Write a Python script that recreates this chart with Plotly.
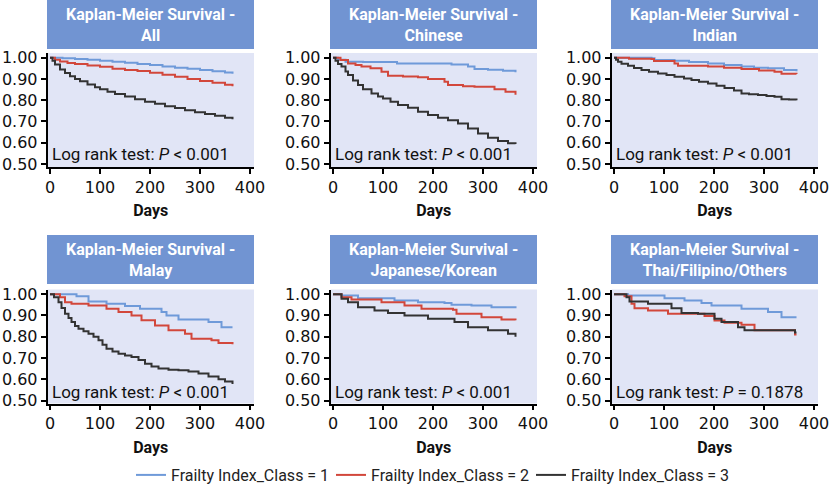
import plotly.graph_objects as go

# ---------------- data ----------------
PANEL_TITLES = ["Kaplan-Meier Survival -<br>All", "Kaplan-Meier Survival -<br>Chinese",
                "Kaplan-Meier Survival -<br>Indian", "Kaplan-Meier Survival -<br>Malay",
                "Kaplan-Meier Survival -<br>Japanese/Korean", "Kaplan-Meier Survival -<br>Thai/Filipino/Others"]
PVALUE_TEXT = ["<i>P</i> < 0.001", "<i>P</i> < 0.001", "<i>P</i> < 0.001",
               "<i>P</i> < 0.001", "<i>P</i> < 0.001", "<i>P</i> = 0.1878"]
SERIES_NAMES = ["Frailty Index_Class = 1", "Frailty Index_Class = 2", "Frailty Index_Class = 3"]
X_TICKS = [0, 100, 200, 300, 400]
Y_TICKS = [0.50, 0.60, 0.70, 0.80, 0.90, 1.00]

# All
ALL_D1 = [0, 25, 50, 75, 100, 125, 150, 175, 200, 225, 250, 275, 300, 325, 350, 365]
ALL_S1 = [1.0, 0.997, 0.994, 0.990, 0.986, 0.981, 0.976, 0.970, 0.965, 0.959, 0.953, 0.948, 0.942, 0.936, 0.930, 0.925]
ALL_D2 = [0, 10, 20, 35, 50, 75, 100, 125, 150, 175, 200, 225, 250, 275, 300, 325, 350, 365]
ALL_S2 = [1.0, 0.990, 0.982, 0.975, 0.970, 0.963, 0.957, 0.948, 0.942, 0.937, 0.929, 0.920, 0.910, 0.900, 0.890, 0.882, 0.873, 0.866]
ALL_D3 = [0, 5, 10, 20, 30, 40, 50, 60, 75, 90, 100, 115, 130, 150, 170, 190, 210, 230, 250, 270, 290, 310, 330, 350, 365]
ALL_S3 = [1.0, 0.985, 0.968, 0.945, 0.928, 0.913, 0.900, 0.889, 0.874, 0.861, 0.852, 0.840, 0.829, 0.817, 0.805, 0.793,
          0.783, 0.772, 0.763, 0.753, 0.744, 0.735, 0.727, 0.718, 0.711]

# Chinese
CHN_D1 = [0, 10, 25, 60, 128, 237, 270, 283, 310, 340, 365]
CHN_S1 = [1.0, 0.990, 0.981, 0.980, 0.973, 0.968, 0.958, 0.947, 0.943, 0.938, 0.931]
CHN_D2 = [0, 15, 30, 45, 57, 75, 97, 110, 140, 170, 190, 223, 230, 260, 283, 323, 345, 365]
CHN_S2 = [1.0, 0.989, 0.973, 0.965, 0.958, 0.950, 0.934, 0.915, 0.912, 0.908, 0.900, 0.887, 0.871, 0.866, 0.863, 0.852, 0.840, 0.826]
CHN_D3 = [0, 5, 10, 17, 25, 30, 40, 50, 60, 77, 90, 100, 115, 130, 150, 170, 190, 210, 230, 250, 270, 290, 310, 330, 350, 365]
CHN_S3 = [1.0, 0.985, 0.970, 0.958, 0.935, 0.918, 0.893, 0.871, 0.852, 0.832, 0.818, 0.808, 0.793, 0.777, 0.764, 0.746,
          0.730, 0.717, 0.706, 0.690, 0.667, 0.643, 0.623, 0.608, 0.598, 0.594]

# Indian
IND_D1 = [0, 75, 81, 121, 150, 188, 220, 255, 280, 308, 340, 365]
IND_S1 = [1.0, 0.997, 0.989, 0.985, 0.980, 0.973, 0.966, 0.958, 0.953, 0.950, 0.942, 0.936]
IND_D2 = [0, 30, 75, 80, 121, 128, 188, 220, 255, 290, 321, 335, 365]
IND_S2 = [1.0, 0.995, 0.994, 0.984, 0.973, 0.962, 0.959, 0.953, 0.947, 0.940, 0.934, 0.925, 0.923]
IND_D3 = [0, 4, 8, 15, 28, 40, 55, 70, 88, 105, 121, 140, 155, 170, 188, 205, 221, 240, 255, 270, 288, 305, 321, 335, 350, 365]
IND_S3 = [1.0, 0.990, 0.981, 0.972, 0.962, 0.952, 0.942, 0.934, 0.926, 0.918, 0.910, 0.902, 0.895, 0.887, 0.879, 0.868,
          0.858, 0.846, 0.832, 0.828, 0.824, 0.820, 0.816, 0.805, 0.803, 0.800]

# Malay
MAL_D1 = [0, 53, 77, 113, 150, 180, 223, 233, 257, 317, 343, 365]
MAL_S1 = [1.0, 0.990, 0.966, 0.955, 0.944, 0.931, 0.916, 0.900, 0.881, 0.869, 0.845, 0.845]
MAL_D2 = [0, 20, 30, 43, 77, 113, 137, 163, 183, 210, 237, 270, 283, 323, 337, 365]
MAL_S2 = [1.0, 0.986, 0.962, 0.955, 0.947, 0.931, 0.916, 0.900, 0.877, 0.853, 0.830, 0.814, 0.790, 0.783, 0.770, 0.765]
MAL_D3 = [0, 8, 17, 23, 30, 37, 43, 50, 57, 67, 77, 87, 97, 105, 113, 125, 137, 150, 163, 177, 190, 203, 217, 237, 257,
          277, 297, 317, 337, 350, 365]
MAL_S3 = [1.0, 0.985, 0.962, 0.935, 0.908, 0.888, 0.869, 0.850, 0.837, 0.826, 0.814, 0.800, 0.783, 0.762, 0.744, 0.730,
          0.720, 0.712, 0.705, 0.690, 0.673, 0.660, 0.650, 0.645, 0.642, 0.637, 0.627, 0.613, 0.600, 0.590, 0.578]

# Japanese/Korean
JPK_D1 = [0, 17, 50, 123, 170, 223, 237, 277, 317, 365]
JPK_S1 = [1.0, 0.994, 0.981, 0.970, 0.962, 0.959, 0.950, 0.947, 0.939, 0.934]
JPK_D2 = [0, 17, 37, 97, 143, 177, 240, 247, 297, 337, 365]
JPK_S2 = [1.0, 0.986, 0.975, 0.962, 0.947, 0.931, 0.927, 0.908, 0.892, 0.881, 0.877]
JPK_D3 = [0, 17, 30, 50, 83, 110, 143, 190, 243, 270, 310, 350, 365]
JPK_S3 = [1.0, 0.978, 0.962, 0.939, 0.923, 0.912, 0.900, 0.884, 0.869, 0.845, 0.830, 0.814, 0.800]

# Thai/Filipino/Others
OTH_D1 = [0, 28, 101, 141, 175, 195, 255, 308, 335, 365]
OTH_S1 = [1.0, 0.994, 0.981, 0.970, 0.959, 0.947, 0.931, 0.916, 0.892, 0.892]
OTH_D2 = [0, 21, 35, 41, 68, 108, 181, 201, 221, 255, 281, 362, 365]
OTH_S2 = [1.0, 0.990, 0.955, 0.934, 0.923, 0.908, 0.897, 0.876, 0.866, 0.856, 0.830, 0.810, 0.810]
OTH_D3 = [0, 25, 31, 68, 115, 135, 168, 201, 215, 248, 261, 362, 365]
OTH_S3 = [1.0, 0.986, 0.966, 0.955, 0.934, 0.912, 0.908, 0.884, 0.869, 0.845, 0.830, 0.820, 0.820]

PANELS = [
    [(ALL_D1, ALL_S1), (ALL_D2, ALL_S2), (ALL_D3, ALL_S3)],
    [(CHN_D1, CHN_S1), (CHN_D2, CHN_S2), (CHN_D3, CHN_S3)],
    [(IND_D1, IND_S1), (IND_D2, IND_S2), (IND_D3, IND_S3)],
    [(MAL_D1, MAL_S1), (MAL_D2, MAL_S2), (MAL_D3, MAL_S3)],
    [(JPK_D1, JPK_S1), (JPK_D2, JPK_S2), (JPK_D3, JPK_S3)],
    [(OTH_D1, OTH_S1), (OTH_D2, OTH_S2), (OTH_D3, OTH_S3)],
]

# ---------------- styling / layout ----------------
W, H = 830, 485
COLORS = ["#6f9ad9", "#d2473b", "#333333"]
BOX_COLOR = "#7194d2"
PLOT_BG = "#e1e5f6"
FONT = "Roboto, 'Open Sans', sans-serif"
TICK_FONT = "'DejaVu Sans', sans-serif"

COL_LEFT = [47.5, 330.5, 611.5]
COL_W = 206.5
ROW_PLOT = [(53, 167), (289.5, 403.5)]
ROW_BOX = [(0, 49), (235, 284)]

def px_x(p):
    return p / W

def px_y(p):
    return 1 - p / H

fig = go.Figure()
layout = dict(
    width=W, height=H, margin=dict(l=0, r=0, t=0, b=0, autoexpand=False),
    paper_bgcolor="white", plot_bgcolor=PLOT_BG,
    showlegend=True,
    legend=dict(orientation="h", x=px_x(131), xanchor="left", y=px_y(475), yanchor="middle",
                entrywidth=155, entrywidthmode="pixels", font=dict(family=FONT, size=16, color="#222"),
                bgcolor="rgba(0,0,0,0)", itemwidth=30),
)
shapes, annotations = [], []

for i, series in enumerate(PANELS):
    r, c = divmod(i, 3)
    ax = "" if i == 0 else str(i + 1)
    x0 = COL_LEFT[c]
    top, bot = ROW_PLOT[r]
    layout["xaxis" + ax] = dict(
        domain=[px_x(x0), px_x(x0 + COL_W)], range=[-5, 408], anchor="y" + ax,
        tickvals=X_TICKS, ticks="outside", ticklen=5, tickwidth=1.5, tickcolor="black",
        showline=True, linecolor="black", linewidth=1.5, showgrid=False, zeroline=False,
        tickfont=dict(family=TICK_FONT, size=16, color="#111"),
        title=dict(text="<b>Days</b>", font=dict(family=FONT, size=16, color="#111"), standoff=9),
    )
    layout["yaxis" + ax] = dict(
        domain=[px_y(bot), px_y(top)], range=[0.486, 1.022], anchor="x" + ax,
        tickvals=Y_TICKS, ticktext=[f"{v:.2f}" for v in Y_TICKS],
        ticks="outside", ticklen=5, tickwidth=1.5, tickcolor="black",
        showline=True, linecolor="black", linewidth=1.5, showgrid=False, zeroline=False,
        tickfont=dict(family=TICK_FONT, size=16, color="#111"),
    )
    for k, (d, s) in enumerate(series):
        fig.add_trace(go.Scatter(
            x=d, y=s, mode="lines", line=dict(color=COLORS[k], width=2, shape="hv"),
            name=SERIES_NAMES[k], legendgroup=SERIES_NAMES[k], showlegend=(i == 0),
            xaxis="x" + ax, yaxis="y" + ax, hoverinfo="skip",
        ))
    # title box
    by0, by1 = ROW_BOX[r]
    shapes.append(dict(type="rect", xref="paper", yref="paper",
                       x0=px_x(x0 - 0.5), x1=px_x(x0 + COL_W), y0=px_y(by1), y1=px_y(by0),
                       fillcolor=BOX_COLOR, line=dict(width=0), layer="below"))
    annotations.append(dict(xref="paper", yref="paper", x=px_x(x0 + COL_W / 2), y=px_y((by0 + by1) / 2),
                            text="<b>" + PANEL_TITLES[i] + "</b>", showarrow=False,
                            font=dict(family=FONT, size=16, color="white"), align="center",
                            xanchor="center", yanchor="middle"))
    annotations.append(dict(xref="x" + ax, yref="y" + ax, x=0, y=0.545 if r == 0 else 0.538,
                            text="Log rank test: " + PVALUE_TEXT[i], showarrow=False,
                            font=dict(family=FONT, size=17, color="#111"),
                            xanchor="left", yanchor="middle"))

layout["shapes"] = shapes
layout["annotations"] = annotations
fig.update_layout(**layout)
fig.write_html("out.html", config={"displayModeBar": False},
               post_script="document.body.style.margin='0';")
